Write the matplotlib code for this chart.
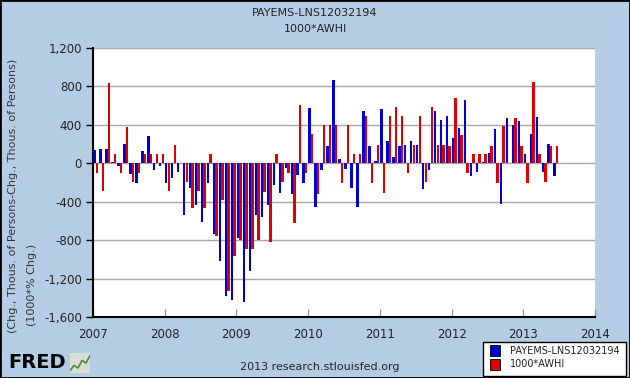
import matplotlib
matplotlib.use('Agg')
import matplotlib.pyplot as plt
import numpy as np
from matplotlib.patches import Rectangle
from matplotlib.ticker import FuncFormatter

# series, monthly from Jan 2007 to Jun 2013
title_lines = ["PAYEMS-LNS12032194", "1000*AWHI"]
series_names = ["PAYEMS-LNS12032194", "1000*AWHI"]
start_year = 2007
payems_less_pter = [140, 145, 145, 15, -30, 200, -110, -200, 125, 285, -70, -30,
                    -210, -150, -90, -540, -255, -430, -615, -200, -740, -1020, -1380, -1425,
                    -780, -1440, -1125, -540, -555, -435, -230, -305, -50, -315, -125, -210,
                    580, -450, -72, 175, 865, 40, -55, -260, -450, 540, 185, 20,
                    560, 230, 70, 175, 195, 230, 195, -270, -72, 540, 455, 495,
                    260, 365, 660, -130, -95, 15, 110, 360, -425, 475, 395, 435,
                    95, 310, 485, -90, 205, -130]
awhi_x1000 = [-100, -290, 840, 95, -100, 375, -195, -100, 100, 100, 100, 100,
              -290, 190, 0, -195, -470, -290, -470, 95, -760, -385, -1330, -970,
              -800, -890, -890, -800, -300, -815, 100, -195, -105, -620, 610, -105,
              300, -315, 400, 400, 400, -210, 400, 95, 95, 495, -210, 195,
              -305, 495, 590, 495, -105, 195, 490, -195, 590, 195, 195, 185,
              675, 290, -105, 95, 95, 95, 185, -200, 385, 0, 475, 185,
              -200, 850, 95, -195, 185, 185]
years = list(range(2007, 2015))
yticks = list(range(-1600, 1201, 400))

bg = '#B4CDE4'
fig = plt.figure(figsize=(6.3, 3.78), dpi=100, facecolor=bg)
ax = fig.add_axes([93 / 630, 1 - 317 / 378, 502 / 630, 269 / 378])

x = start_year + np.arange(len(payems_less_pter)) / 12.0
ax.bar(x + 0.004, payems_less_pter, width=0.034, align='edge',
       color='#0000dd', linewidth=0, zorder=3)
ax.bar(x + 0.040, awhi_x1000, width=0.034, align='edge',
       color='#e00000', linewidth=0, zorder=3)

ax.set_xlim(2007, 2014)
ax.set_ylim(-1600, 1200)
ax.set_yticks(yticks)
ax.yaxis.set_major_formatter(FuncFormatter(lambda v, p: f'{int(v):,}'))
ax.set_xticks(years)
ax.grid(axis='y', color='#a8a8a8', lw=1, zorder=1)
ax.grid(axis='x', visible=False)
ax.set_axisbelow(True)
ax.spines['top'].set_visible(False)
ax.spines['right'].set_visible(False)
ax.spines['left'].set_color('black')
ax.spines['bottom'].set_color('black')
ax.spines['left'].set_linewidth(1.5)
ax.spines['bottom'].set_linewidth(1.5)
ax.tick_params(axis='y', direction='out', length=5, width=1, color='black',
               labelsize=8.5, labelcolor='#222222', pad=3)
ax.tick_params(axis='x', direction='in', length=6, width=1, color='#999999',
               labelsize=8.5, labelcolor='#222222', pad=8)

# titles
fig.text(0.5, 1 - 13 / 378, title_lines[0], ha='center', va='center',
         fontsize=8, color='#222222')
fig.text(0.5, 1 - 29 / 378, title_lines[1], ha='center', va='center',
         fontsize=8, color='#222222')

# y axis label, two rotated lines
fig.text(13 / 630, 1 - 333 / 378, "(Chg., Thous. of Persons-Chg., Thous. of Persons)",
         rotation=90, ha='center', va='bottom', fontsize=8, color='#333333')
fig.text(32 / 630, 1 - 326 / 378, "(1000*% Chg.)",
         rotation=90, ha='center', va='bottom', fontsize=8, color='#333333')

# source
fig.text(320 / 630, 1 - 367 / 378, "2013 research.stlouisfed.org", ha='center',
         va='center', fontsize=8, color='#222222')

# FRED logo
fig.text(8 / 630, 1 - 362 / 378, "FRED", ha='left', va='center', fontsize=14,
         fontweight='bold', color='black')
icon = fig.add_axes([70 / 630, 1 - 373 / 378, 20 / 630, 20 / 378])
icon.set_facecolor('#d8e0d0')
icon.plot([0, 1, 2, 3, 4, 5], [0.5, 1.5, 1.0, 2.5, 2.0, 3.5], color='#4a8a3a', lw=1.2)
icon.set_xlim(0, 5)
icon.set_ylim(0, 4)
icon.set_xticks([])
icon.set_yticks([])
for s in icon.spines.values():
    s.set_visible(False)

# legend
fig.add_artist(Rectangle((483 / 630, 1 - 376 / 378), 143 / 630, 34 / 378,
                         transform=fig.transFigure, facecolor='white',
                         edgecolor='black', lw=1))
fig.add_artist(Rectangle((490 / 630, 1 - 356 / 378), 10 / 630, 11 / 378,
                         transform=fig.transFigure, facecolor='#0000dd',
                         edgecolor='black', lw=0.6))
fig.add_artist(Rectangle((490 / 630, 1 - 370 / 378), 10 / 630, 11 / 378,
                         transform=fig.transFigure, facecolor='#e00000',
                         edgecolor='black', lw=0.6))
fig.text(510 / 630, 1 - 351 / 378, series_names[0], ha='left', va='center',
         fontsize=7, color='#222222')
fig.text(510 / 630, 1 - 364 / 378, series_names[1], ha='left', va='center',
         fontsize=7, color='#222222')

# outer frame
fig.add_artist(Rectangle((0, 0), 1, 1, transform=fig.transFigure,
                         facecolor='none', edgecolor='black', lw=2))

fig.savefig('out.png', dpi=100, facecolor=bg)
